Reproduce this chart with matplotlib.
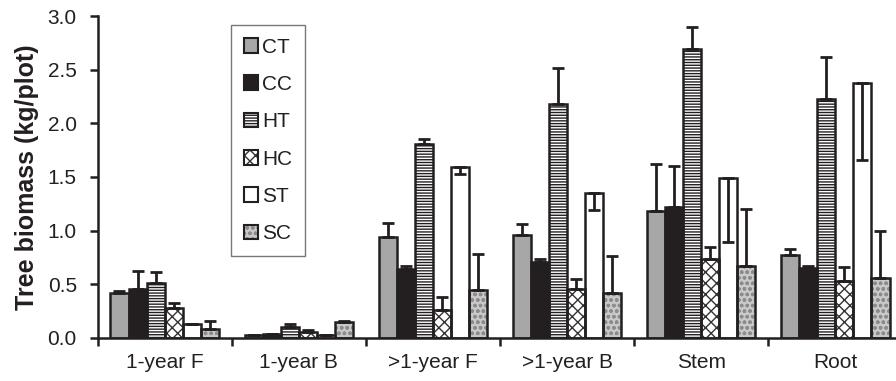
import numpy as np
import matplotlib.pyplot as plt
from matplotlib.patches import Patch

plt.rcParams['font.family'] = ['Liberation Sans', 'DejaVu Sans']
plt.rcParams['hatch.linewidth'] = 1.0

categories = ['1-year F', '1-year B', '>1-year F', '>1-year B', 'Stem', 'Root']
treatments = ['CT', 'CC', 'HT', 'HC', 'ST', 'SC']

# mean biomass per treatment (kg/plot), one list per treatment over categories
means = {
    'CT': [0.42, 0.03, 0.94, 0.96, 1.18, 0.77],
    'CC': [0.46, 0.04, 0.64, 0.71, 1.22, 0.65],
    'HT': [0.51, 0.10, 1.81, 2.18, 2.69, 2.23],
    'HC': [0.28, 0.06, 0.26, 0.46, 0.74, 0.53],
    'ST': [0.13, 0.03, 1.59, 1.35, 1.49, 2.38],
    'SC': [0.08, 0.15, 0.45, 0.42, 0.67, 0.56],
}
# standard errors; ST bars have their error drawn downward
errors = {
    'CT': [0.02, 0.00, 0.13, 0.10, 0.44, 0.06],
    'CC': [0.16, 0.00, 0.03, 0.03, 0.38, 0.02],
    'HT': [0.10, 0.03, 0.04, 0.34, 0.21, 0.39],
    'HC': [0.05, 0.01, 0.12, 0.09, 0.11, 0.13],
    'ST': [0.00, 0.00, 0.06, 0.16, 0.60, 0.72],
    'SC': [0.08, 0.01, 0.33, 0.34, 0.53, 0.44],
}
down = ['ST']

ink = '#231f20'
styles = {
    'CT': dict(facecolor='#a7a7a7', hatch=None, hcolor=ink),
    'CC': dict(facecolor=ink, hatch=None, hcolor=ink),
    'HT': dict(facecolor='white', hatch='------', hcolor=ink),
    'HC': dict(facecolor='white', hatch='xxx', hcolor='#333333'),
    'ST': dict(facecolor='white', hatch=None, hcolor=ink),
    'SC': dict(facecolor='#c9c9c9', hatch='ooo', hcolor='#8c8c8c'),
}

fig = plt.figure(figsize=(8.96, 3.81), dpi=100)
ax = fig.add_axes([0.109, 0.113, 0.898, 0.845])

x = np.arange(len(categories))
w = 0.135
handles = []
for i, t in enumerate(treatments):
    st = styles[t]
    pos = x - 2.5 * w + i * w
    vals = np.array(means[t])
    err = np.array(errors[t])
    if t in down:
        yerr = [err, np.zeros_like(err)]
    else:
        yerr = [np.zeros_like(err), err]
    # fill + hatch layer, then outline on top
    ax.bar(pos, vals, w, color=st['facecolor'], hatch=st['hatch'],
           edgecolor=st['hcolor'], linewidth=0, zorder=2)
    ax.bar(pos, vals, w, fill=False, edgecolor=ink, linewidth=1.8, zorder=3)
    ax.errorbar(pos, vals, yerr=yerr, fmt='none', ecolor=ink, elinewidth=2,
                capsize=4, capthick=2, zorder=4)
    handles.append((Patch(facecolor=st['facecolor'], hatch=st['hatch'],
                          edgecolor=st['hcolor'], linewidth=0),
                    Patch(fill=False, edgecolor=ink, linewidth=1.5)))

ax.set_xlim(-0.5, 5.5)
ax.set_ylim(0, 3.0)
ax.set_yticks(np.arange(0, 3.01, 0.5))
ax.set_yticklabels([f'{v:.1f}' for v in np.arange(0, 3.01, 0.5)])
ax.set_xticks(np.arange(-0.5, 5.6, 1.0))
ax.set_xticklabels([])
ax.set_xticks(x, minor=True)
ax.set_xticklabels(categories, minor=True)
ax.tick_params(axis='x', which='minor', length=0, pad=11, labelsize=15, colors=ink)
ax.tick_params(axis='x', which='major', length=6, width=1.8, color=ink)
ax.tick_params(axis='y', length=6, width=1.8, color=ink, labelsize=15,
               labelcolor=ink, pad=9)
for s in ['top', 'right']:
    ax.spines[s].set_visible(False)
for s in ['left', 'bottom']:
    ax.spines[s].set_linewidth(1.8)
    ax.spines[s].set_color(ink)

ax.set_ylabel('Tree biomass (kg/plot)', fontsize=18, fontweight='bold',
              color=ink, labelpad=6)

leg = ax.legend(handles, treatments, loc='upper left',
                bbox_to_anchor=(0.258, 0.934), bbox_transform=fig.transFigure,
                frameon=True, fancybox=False, edgecolor='#555555',
                fontsize=15, handlelength=0.7, handleheight=0.7,
                handletextpad=0.2, labelspacing=0.88, borderpad=0.6,
                borderaxespad=0)
leg.get_frame().set_linewidth(1.0)
for txt in leg.get_texts():
    txt.set_color(ink)

fig.savefig('out.png', dpi=100)
